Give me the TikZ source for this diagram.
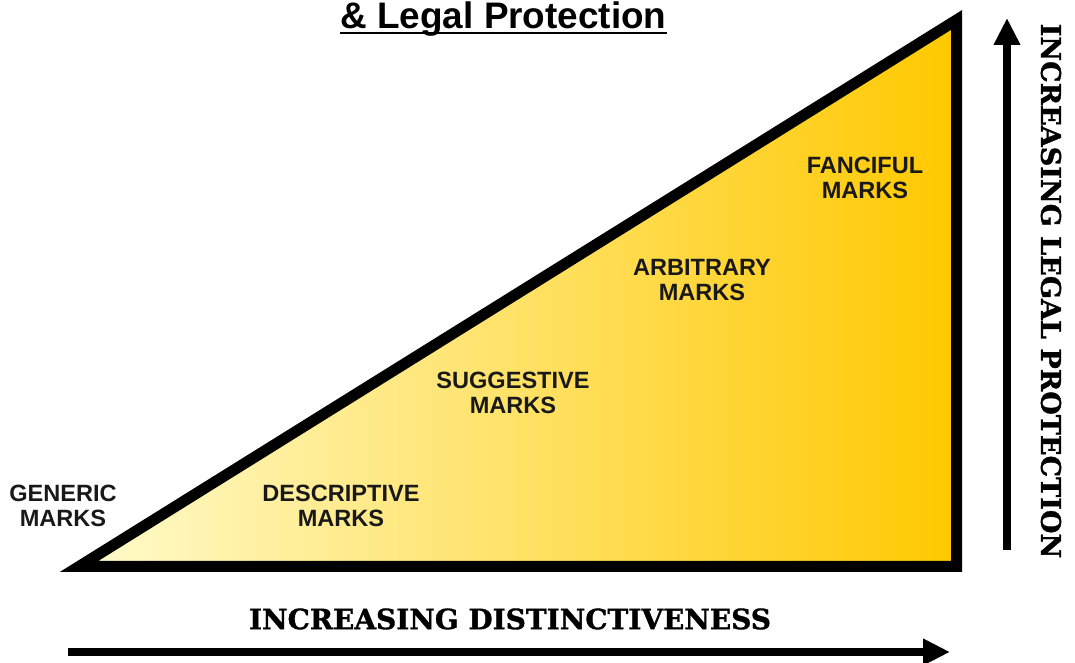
\documentclass[tikz,border=0pt]{standalone}
\usepackage{fontspec}
\setmainfont{Liberation Sans}
\newfontfamily\slabfont{DejaVu Serif}[BoldFeatures={FakeBold=1.2}]
\definecolor{PaleColor}{RGB}{255,251,205}
\definecolor{GoldColor}{RGB}{255,200,0}
\definecolor{InkColor}{RGB}{25,25,25}
\usetikzlibrary{arrows.meta}
\tikzstyle{wedge} = [line width=0.22cm, line join=miter, draw=black, left color=PaleColor, right color=GoldColor]
\tikzstyle{markname} = [align=center, text=InkColor, font=\fontsize{13.4}{14.6}\selectfont\bfseries, inner sep=0pt]
\tikzstyle{axislabel} = [font=\fontsize{15.4}{18}\slabfont\bfseries, inner sep=0pt]
\tikzstyle{axis} = [line width=0.16cm, -{Triangle[length=0.54cm, width=0.5cm]}]

\begin{document}
\begin{tikzpicture}
                \useasboundingbox (0,0) rectangle (21.5,13.26);

                % Triangle
                \coordinate (low) at (1.58,1.93);
                \coordinate (corner) at (19.13,1.93);
                \coordinate (peak) at (19.13,12.86);
                \draw[wedge] (low) -- (corner) -- (peak) -- cycle;

                % Title
                \node[anchor=base, inner sep=0pt, font=\fontsize{21}{24}\selectfont\bfseries] (title) at (10.07,12.68) {\& Legal Protection};
                \draw[line width=0.04cm] ([yshift=-0.075cm]title.base west) -- ([yshift=-0.075cm]title.base east);

                % Kinds of marks
                \node[markname] (generic) at (1.26,3.14) {GENERIC\\MARKS};
                \node[markname] (descriptive) at (6.82,3.14) {DESCRIPTIVE\\MARKS};
                \node[markname] (suggestive) at (10.26,5.40) {SUGGESTIVE\\MARKS};
                \node[markname] (arbitrary) at (14.04,7.66) {ARBITRARY\\MARKS};
                \node[markname] (fanciful) at (17.30,9.70) {FANCIFUL\\MARKS};

                % Distinctiveness axis
                \node[axislabel, font=\fontsize{15.9}{18}\slabfont\bfseries] (distinct) at (10.2,0.88) {INCREASING DISTINCTIVENESS};
                \coordinate (xstart) at (1.36,0.22);
                \coordinate (xend) at (19.0,0.22);
                \draw[axis] (xstart) -- (xend);

                % Protection axis
                \node[axislabel, rotate=-90] (protect) at (21.02,7.44) {INCREASING LEGAL PROTECTION};
                \coordinate (ystart) at (20.14,2.26);
                \coordinate (yend) at (20.14,12.90);
                \draw[axis] (ystart) -- (yend);
            \end{tikzpicture}
\end{document}
